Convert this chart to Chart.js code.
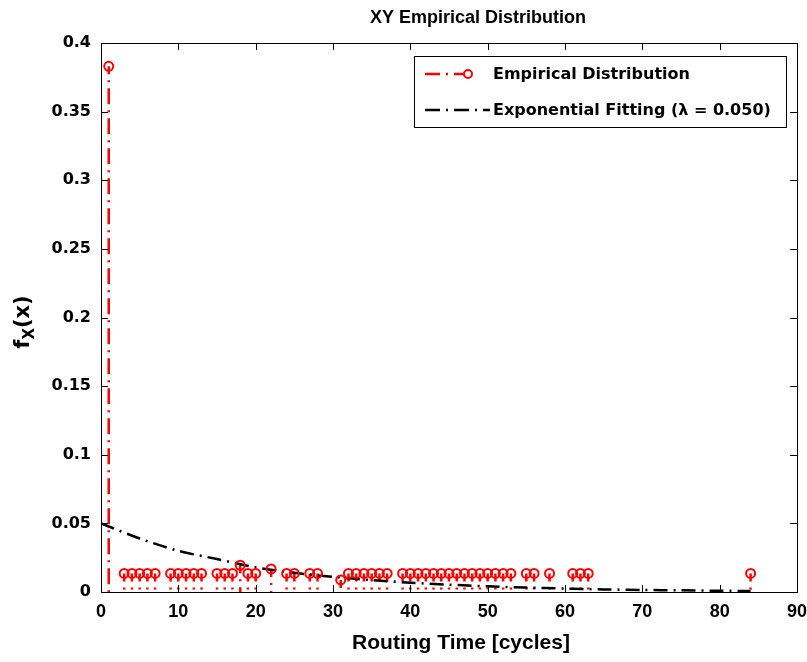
<!DOCTYPE html>
<html>
<head>
<meta charset="utf-8">
<script src="https://cdn.jsdelivr.net/npm/chart.js@4.4.1/dist/chart.umd.min.js"></script>
<style>
  html, body { margin: 0; padding: 0; background: #fff; }
</style>
</head>
<body>
<canvas id="canvas" width="807" height="662"></canvas>
<script>
// values
const empiricalX = [1, 3, 4, 5, 6, 7, 9, 10, 11, 12, 13, 15, 16, 17, 18, 19, 20, 22, 24, 25, 27, 28,
  31, 32, 33, 34, 35, 36, 37, 39, 40, 41, 42, 43, 44, 45, 46, 47, 48, 49, 50, 51, 52, 53,
  55, 56, 58, 61, 62, 63, 84]
const empiricalY = [0.383, 0.0135, 0.0135, 0.0135, 0.0135, 0.0135, 0.0135, 0.0135, 0.0135, 0.0135, 0.0135,
  0.0135, 0.0135, 0.0135, 0.0195, 0.0135, 0.0135, 0.0168, 0.0135, 0.0135, 0.0135, 0.0135,
  0.0088, 0.0135, 0.0135, 0.0135, 0.0135, 0.0135, 0.0135, 0.0135, 0.0135, 0.0135, 0.0135, 0.0135,
  0.0135, 0.0135, 0.0135, 0.0135, 0.0135, 0.0135, 0.0135, 0.0135, 0.0135, 0.0135,
  0.0135, 0.0135, 0.0135, 0.0135, 0.0135, 0.0135, 0.0135]

const fitX = [0, 5, 10, 15, 20, 25, 30, 35, 40, 45, 50, 55, 60, 65, 70, 75, 80, 84]
const fitY = [0.050, 0.039, 0.030, 0.024, 0.018, 0.014, 0.011, 0.0087, 0.0068, 0.0053,
  0.0041, 0.0032, 0.0025, 0.0019, 0.0015, 0.0012, 0.0009, 0.0007]

const xTicks = [0, 10, 20, 30, 40, 50, 60, 70, 80, 90]
const yTicks = [0, 0.05, 0.1, 0.15, 0.2, 0.25, 0.3, 0.35, 0.4]

const chartTitle = "XY Empirical Distribution"
const xTitle = "Routing Time [cycles]"
const legendLabels = ["Empirical Distribution", "Exponential Fitting (\u03bb = 0.050)"]

const red = "#ff0000"
const boldFont = "DejaVu Sans"
const narrowFont = "'Liberation Sans', Arial, sans-serif"

function toPoints(xs, ys) {
  return xs.map((x, i) => ({ x: x, y: ys[i] }))
}

// stems, box, inward ticks, titles, y label and legend drawn the MATLAB way
const matlabLook = {
  id: "matlabLook",
  beforeDatasetsDraw(chart) {
    const ctx = chart.ctx
    const meta = chart.getDatasetMeta(0)
    const base = chart.scales.y.getPixelForValue(0)
    ctx.save()
    ctx.strokeStyle = red
    ctx.lineWidth = 2.5
    ctx.setLineDash([16, 6, 2, 6])
    ctx.lineDashOffset = 8
    meta.data.forEach((pt) => {
      ctx.beginPath()
      ctx.moveTo(pt.x, pt.y)
      ctx.lineTo(pt.x, base)
      ctx.stroke()
    })
    ctx.restore()
  },
  afterDraw(chart) {
    const ctx = chart.ctx
    const a = chart.chartArea
    const xs = chart.scales.x
    const ys = chart.scales.y
    ctx.save()

    // box
    ctx.strokeStyle = "#000"
    ctx.lineWidth = 1
    ctx.strokeRect(a.left + 0.5, a.top + 0.5, a.right - a.left, a.bottom - a.top)

    // inward ticks
    ctx.beginPath()
    xTicks.forEach((v) => {
      const px = Math.round(xs.getPixelForValue(v)) + 0.5
      ctx.moveTo(px, a.bottom); ctx.lineTo(px, a.bottom - 7)
      ctx.moveTo(px, a.top); ctx.lineTo(px, a.top + 7)
    })
    yTicks.forEach((v) => {
      const py = Math.round(ys.getPixelForValue(v)) + 0.5
      ctx.moveTo(a.left, py); ctx.lineTo(a.left + 7, py)
      ctx.moveTo(a.right, py); ctx.lineTo(a.right - 7, py)
    })
    ctx.stroke()

    // title and x label
    ctx.fillStyle = "#000"
    ctx.font = "bold 18px " + narrowFont
    ctx.textAlign = "center"
    ctx.textBaseline = "middle"
    ctx.fillText(chartTitle, 478, 18)
    ctx.font = "bold 21px " + narrowFont
    ctx.fillText(xTitle, 461, 643)

    // y label f_X(x)
    ctx.save()
    ctx.translate(22, 322)
    ctx.rotate(-Math.PI / 2)
    ctx.textAlign = "left"
    ctx.textBaseline = "alphabetic"
    const big = "bold 21px " + boldFont
    const small = "bold 15px " + boldFont
    ctx.font = big
    const wf = ctx.measureText("f").width
    const wp = ctx.measureText("(x)").width
    ctx.font = small
    const wx = ctx.measureText("X").width
    let cx = -(wf + wx + wp) / 2
    ctx.font = big
    ctx.fillText("f", cx, 7)
    cx += wf
    ctx.font = small
    ctx.fillText("X", cx, 12)
    cx += wx
    ctx.font = big
    ctx.fillText("(x)", cx, 7)
    ctx.restore()

    // legend
    const lx = 414, ly = 56, lw = 372, lh = 71
    ctx.fillStyle = "#fff"
    ctx.fillRect(lx, ly, lw, lh)
    ctx.strokeStyle = "#000"
    ctx.lineWidth = 1
    ctx.strokeRect(lx + 0.5, ly + 0.5, lw, lh)

    const row1 = 74, row2 = 110
    ctx.lineWidth = 2.5
    ctx.strokeStyle = red
    ctx.setLineDash([15, 6, 2, 6])
    ctx.beginPath(); ctx.moveTo(425, row1); ctx.lineTo(468, row1); ctx.stroke()
    ctx.setLineDash([])
    ctx.lineWidth = 2
    ctx.fillStyle = "#fff"
    ctx.beginPath(); ctx.arc(468, row1, 4, 0, Math.PI * 2); ctx.fill(); ctx.stroke()

    ctx.strokeStyle = "#000"
    ctx.lineWidth = 2.5
    ctx.setLineDash([15, 6, 2, 6])
    ctx.beginPath(); ctx.moveTo(425, row2); ctx.lineTo(490, row2); ctx.stroke()
    ctx.setLineDash([])

    ctx.fillStyle = "#000"
    ctx.font = "bold 16px " + boldFont
    ctx.textAlign = "left"
    ctx.textBaseline = "middle"
    ctx.fillText(legendLabels[0], 493, row1 + 1)
    ctx.fillText(legendLabels[1], 493, row2 + 1)

    ctx.restore()
  }
}

const ctx = document.getElementById("canvas")

new Chart(ctx, {
  type: "scatter",
  data: {
    datasets: [{
      label: legendLabels[0],
      data: toPoints(empiricalX, empiricalY),
      showLine: false,
      pointStyle: "circle",
      pointRadius: 4.5,
      pointBorderWidth: 2,
      pointBorderColor: red,
      pointBackgroundColor: "rgba(255,255,255,0)",
      order: 1
    }, {
      label: legendLabels[1],
      data: toPoints(fitX, fitY),
      showLine: true,
      borderColor: "#000",
      borderWidth: 2.5,
      borderDash: [14, 6, 2, 6],
      pointRadius: 0,
      tension: 0.3,
      order: 2
    }]
  },
  options: {
    responsive: false,
    animation: false,
    layout: { padding: { top: 43, right: 10, left: 0, bottom: 0 } },
    plugins: {
      legend: { display: false },
      title: { display: false },
      tooltip: { enabled: false }
    },
    scales: {
      x: {
        type: "linear",
        min: 0,
        max: 90,
        afterBuildTicks: (scale) => { scale.ticks = xTicks.map((v) => ({ value: v })) },
        afterFit: (scale) => {
          scale.height = 70
          scale.paddingRight = 0
          scale.paddingLeft = 0
        },
        grid: { display: false, drawTicks: false },
        border: { display: false },
        ticks: {
          padding: 9,
          color: "#000",
          font: { family: narrowFont, size: 18, weight: "bold" },
          maxRotation: 0,
          callback: (v) => String(v)
        }
      },
      y: {
        type: "linear",
        min: 0,
        max: 0.4,
        afterBuildTicks: (scale) => { scale.ticks = yTicks.map((v) => ({ value: v })) },
        afterFit: (scale) => { scale.width = 101 },
        grid: { display: false, drawTicks: false },
        border: { display: false },
        ticks: {
          padding: 10,
          color: "#000",
          font: { family: boldFont, size: 16, weight: "bold" },
          callback: (v) => String(Math.round(v * 100) / 100)
        }
      }
    }
  },
  plugins: [matlabLook]
})
</script>
</body>
</html>
